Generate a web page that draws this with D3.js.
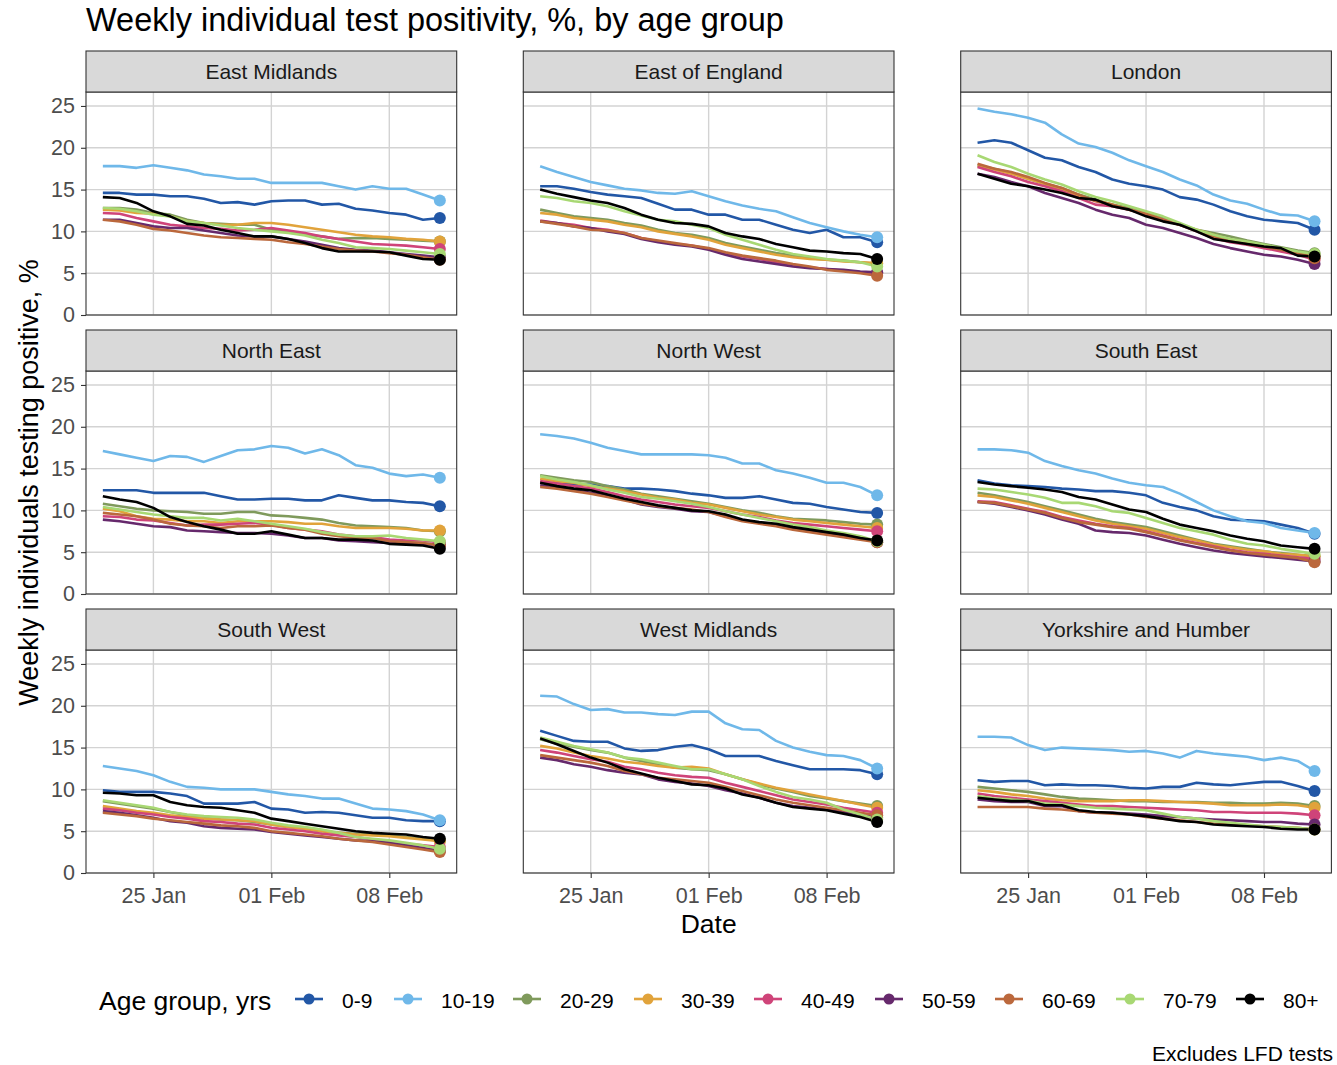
<!DOCTYPE html>
<html><head><meta charset="utf-8">
<script src="https://cdn.jsdelivr.net/npm/d3@7"></script>
<style>body{margin:0;background:#fff;} text{font-family:"Liberation Sans",Arial,sans-serif;}</style>
</head><body>
<svg id="chart" width="1337" height="1065"></svg>
<script>
const dates = ["2021-01-22","2021-01-23","2021-01-24","2021-01-25","2021-01-26","2021-01-27","2021-01-28","2021-01-29","2021-01-30","2021-01-31","2021-02-01","2021-02-02","2021-02-03","2021-02-04","2021-02-05","2021-02-06","2021-02-07","2021-02-08","2021-02-09","2021-02-10","2021-02-11"];
const ageGroups = ["0-9","10-19","20-29","30-39","40-49","50-59","60-69","70-79","80+"];
const ageColors = ["#2257a6","#6fb8e9","#7f9a5c","#e1a33b","#cf4479","#66296c","#bb683c","#a8d873","#000000"];
const regions = ["East Midlands","East of England","London","North East","North West","South East","South West","West Midlands","Yorkshire and Humber"];
const xTickDates = ["2021-01-25","2021-02-01","2021-02-08"];
const xTickLabels = ["25 Jan","01 Feb","08 Feb"];
const yTicks = [0,5,10,15,20,25];

// values per region: one row per age group (0-9 ... 80+), one value per date
const eastMidlands = [
 [14.6,14.6,14.4,14.4,14.2,14.2,13.9,13.4,13.5,13.2,13.6,13.7,13.7,13.2,13.3,12.7,12.5,12.2,12.0,11.4,11.6],
 [17.8,17.8,17.6,17.9,17.6,17.3,16.8,16.6,16.3,16.3,15.8,15.8,15.8,15.8,15.4,15.0,15.4,15.1,15.1,14.4,13.7],
 [12.8,12.8,12.6,12.2,12.0,11.4,11.0,10.9,10.8,10.8,10.2,10.0,9.6,9.4,9.1,9.2,9.2,9.1,9.0,8.9,8.8],
 [12.6,12.5,12.2,12.1,11.8,11.2,11.0,10.8,10.8,11.0,11.0,10.8,10.5,10.2,9.9,9.6,9.4,9.3,9.1,9.0,8.8],
 [12.2,12.1,11.6,11.2,10.8,10.6,10.4,10.3,10.1,10.2,10.4,10.1,9.8,9.4,9.1,8.8,8.5,8.4,8.3,8.1,7.9],
 [11.4,11.4,11.0,10.6,10.4,10.4,10.1,9.8,9.5,9.4,9.4,9.1,8.8,8.4,8.0,7.8,7.7,7.5,7.3,7.1,6.9],
 [11.4,11.2,10.8,10.3,10.1,9.8,9.5,9.3,9.2,9.1,9.0,8.7,8.5,8.2,7.9,7.7,7.6,7.4,7.2,6.9,6.6],
 [12.8,12.7,12.4,12.0,11.8,11.2,11.0,10.7,10.4,10.2,10.0,9.8,9.5,9.0,8.6,8.1,8.0,7.9,7.7,7.5,7.3],
 [14.1,14.0,13.4,12.4,11.8,10.9,10.7,10.2,9.8,9.4,9.4,9.1,8.6,8.0,7.6,7.6,7.6,7.5,7.1,6.7,6.6]
];
const eastOfEngland = [
 [15.4,15.4,15.1,14.7,14.4,14.2,14.0,13.3,12.6,12.6,12.0,12.0,11.4,11.4,10.8,10.2,9.8,10.2,9.3,9.3,8.7],
 [17.8,17.1,16.5,15.9,15.5,15.1,14.9,14.6,14.5,14.8,14.2,13.6,13.1,12.7,12.4,11.7,11.0,10.5,10.0,9.6,9.3],
 [12.6,12.2,11.8,11.6,11.4,11.0,10.7,10.2,9.8,9.6,9.2,8.6,8.2,7.8,7.4,7.1,6.8,6.6,6.5,6.3,6.1],
 [12.2,12.0,11.6,11.4,11.2,10.8,10.5,10.0,9.7,9.4,9.0,8.4,8.0,7.6,7.2,6.9,6.7,6.6,6.4,6.3,6.2],
 [11.3,11.0,10.8,10.4,10.2,9.8,9.2,8.8,8.5,8.3,7.9,7.4,7.0,6.7,6.3,6.0,5.7,5.5,5.3,5.1,5.0],
 [11.2,11.0,10.6,10.4,10.0,9.7,9.1,8.7,8.4,8.2,7.8,7.2,6.7,6.4,6.1,5.8,5.6,5.5,5.4,5.2,5.1],
 [11.2,10.9,10.6,10.2,10.1,9.8,9.2,8.9,8.6,8.3,8.0,7.5,7.1,6.8,6.5,6.1,5.8,5.4,5.2,5.0,4.7],
 [14.2,14.0,13.6,13.4,13.0,12.4,11.9,11.4,11.2,10.8,10.4,9.6,9.0,8.4,7.8,7.3,7.0,6.7,6.5,6.3,5.8],
 [15.0,14.5,14.1,13.7,13.4,12.8,12.0,11.4,11.0,10.9,10.6,9.8,9.4,9.1,8.5,8.1,7.7,7.6,7.4,7.3,6.7]
];
const london = [
 [20.6,20.9,20.6,19.7,18.8,18.5,17.7,17.1,16.2,15.7,15.4,15.0,14.1,13.8,13.2,12.4,11.8,11.4,11.2,11.0,10.2],
 [24.7,24.3,24.0,23.6,23.0,21.6,20.5,20.1,19.4,18.5,17.8,17.1,16.2,15.5,14.4,13.7,13.3,12.6,12.0,11.9,11.2],
 [17.9,17.5,17.0,16.3,15.7,15.2,14.4,13.8,13.2,12.8,12.2,11.6,10.8,10.2,9.8,9.4,8.9,8.5,8.1,7.7,7.4],
 [17.8,17.4,16.9,16.3,15.7,15.0,14.2,13.7,13.2,12.6,12.1,11.4,10.8,10.2,9.6,9.0,8.6,8.3,7.9,7.5,7.0],
 [17.7,17.1,16.6,15.9,15.4,14.8,14.0,13.2,13.0,12.6,12.0,11.4,10.8,10.0,9.2,8.7,8.4,8.0,7.6,7.2,6.6],
 [16.9,16.5,15.9,15.4,14.6,14.0,13.4,12.6,12.0,11.6,10.8,10.4,9.8,9.2,8.5,8.0,7.6,7.2,7.0,6.6,6.1],
 [18.1,17.5,17.1,16.5,15.8,15.2,14.4,13.6,13.2,12.6,12.1,11.4,10.8,10.1,9.4,9.0,8.5,8.2,7.8,7.4,6.8],
 [19.1,18.3,17.7,16.9,16.2,15.6,14.8,14.1,13.6,13.0,12.4,11.8,11.0,10.2,9.6,9.1,8.8,8.4,8.0,7.6,7.3],
 [16.9,16.3,15.7,15.4,15.0,14.6,14.0,13.8,13.0,12.6,11.8,11.2,10.8,10.0,9.1,8.8,8.5,8.2,8.0,7.1,7.0]
];
const northEast = [
 [12.4,12.4,12.4,12.1,12.1,12.1,12.1,11.7,11.3,11.3,11.4,11.4,11.2,11.2,11.8,11.5,11.2,11.2,11.0,10.9,10.5],
 [17.1,16.7,16.3,15.9,16.5,16.4,15.8,16.5,17.2,17.3,17.7,17.5,16.8,17.3,16.6,15.4,15.1,14.4,14.1,14.3,13.9],
 [10.8,10.5,10.2,10.0,9.9,9.8,9.6,9.6,9.8,9.8,9.4,9.3,9.1,8.9,8.5,8.2,8.1,8.0,7.9,7.6,7.5],
 [10.2,9.9,9.3,9.0,8.9,8.7,8.7,8.5,8.7,8.7,8.7,8.6,8.4,8.4,8.1,7.9,7.9,7.9,7.8,7.6,7.6],
 [9.3,9.2,8.9,8.8,8.5,8.2,8.3,8.3,8.4,8.5,8.3,7.9,7.7,7.5,7.1,6.9,6.8,6.5,6.4,6.4,6.2],
 [8.9,8.7,8.4,8.1,8.0,7.6,7.5,7.4,7.3,7.3,7.2,7.0,6.7,6.7,6.4,6.3,6.2,6.1,6.0,6.0,5.9],
 [9.7,9.5,9.3,8.9,8.4,8.2,8.1,7.9,8.1,8.1,8.2,7.9,7.7,7.2,6.9,6.7,6.7,6.3,6.2,6.1,5.8],
 [10.4,10.1,9.8,9.5,9.3,9.1,9.1,8.8,9.0,8.7,8.4,8.1,7.8,7.4,7.1,6.9,6.9,7.0,6.7,6.5,6.3],
 [11.7,11.3,11.0,10.3,9.2,8.6,8.1,7.7,7.2,7.2,7.5,7.1,6.7,6.7,6.5,6.5,6.4,6.0,5.9,5.8,5.4]
];
const northWest = [
 [13.3,13.2,13.1,13.1,12.9,12.6,12.6,12.5,12.3,12.0,11.8,11.5,11.5,11.7,11.3,10.9,10.8,10.4,10.1,9.8,9.7],
 [19.1,18.9,18.6,18.1,17.5,17.1,16.7,16.7,16.7,16.7,16.6,16.3,15.6,15.6,14.8,14.4,13.9,13.3,13.3,12.8,11.8],
 [14.2,13.9,13.6,13.4,12.9,12.5,12.0,11.7,11.4,11.1,10.8,10.4,10.0,9.7,9.3,9.0,8.9,8.8,8.6,8.4,8.3],
 [13.8,13.5,13.3,12.9,12.6,12.3,11.9,11.5,11.3,10.9,10.7,10.3,9.9,9.5,9.2,8.9,8.7,8.5,8.3,8.1,7.9],
 [13.5,13.2,12.9,12.6,12.2,11.7,11.3,11.0,10.7,10.5,10.3,9.9,9.5,9.2,8.8,8.5,8.3,8.1,7.9,7.7,7.5],
 [13.0,12.7,12.4,12.1,11.8,11.3,10.7,10.4,10.2,9.9,9.8,9.3,8.8,8.5,8.3,7.9,7.6,7.3,7.0,6.7,6.2],
 [12.8,12.6,12.3,12.0,11.6,11.2,10.8,10.5,10.3,10.1,9.8,9.2,8.7,8.4,8.1,7.7,7.4,7.1,6.8,6.5,6.2],
 [14.1,13.7,13.4,13.0,12.5,12.1,11.6,11.4,11.1,10.8,10.4,9.9,9.5,9.1,8.7,8.3,8.0,7.6,7.3,6.9,6.3],
 [13.3,12.9,12.6,12.4,11.9,11.4,11.0,10.6,10.3,10.0,9.9,9.5,8.9,8.6,8.4,8.0,7.7,7.4,7.1,6.7,6.4]
];
const southEast = [
 [13.6,13.2,13.0,12.9,12.8,12.6,12.5,12.3,12.3,12.1,11.8,10.9,10.4,10.0,9.3,8.9,8.8,8.7,8.3,7.9,7.2],
 [17.3,17.3,17.2,16.9,15.9,15.3,14.8,14.4,13.8,13.3,13.0,12.8,12.0,11.0,10.0,9.3,8.7,8.5,7.9,7.6,7.3],
 [12.1,11.8,11.4,11.0,10.5,10.0,9.5,9.0,8.6,8.3,8.0,7.5,7.0,6.5,6.0,5.7,5.4,5.1,4.9,4.7,4.5],
 [11.8,11.6,11.2,10.8,10.3,9.8,9.3,8.8,8.4,8.1,7.8,7.3,6.8,6.4,5.9,5.6,5.3,5.1,4.8,4.7,4.5],
 [11.1,11.0,10.6,10.2,9.8,9.2,8.8,8.4,8.1,7.9,7.5,7.0,6.5,6.1,5.7,5.3,5.0,4.8,4.6,4.4,4.2],
 [11.0,10.8,10.4,10.0,9.5,8.9,8.4,7.6,7.4,7.3,7.0,6.5,6.0,5.6,5.2,4.9,4.7,4.5,4.3,4.1,3.9],
 [11.0,10.9,10.5,10.1,9.7,9.1,8.6,8.3,8.0,7.8,7.4,6.9,6.4,6.0,5.6,5.2,4.9,4.7,4.5,4.3,3.8],
 [12.6,12.5,12.2,11.9,11.5,10.9,10.9,10.5,9.9,9.7,9.1,8.5,7.9,7.5,7.1,6.5,6.0,5.8,5.4,5.1,4.8],
 [13.4,13.1,12.9,12.7,12.5,12.2,11.6,11.3,10.7,10.1,9.8,9.0,8.3,7.9,7.5,7.0,6.6,6.3,5.8,5.6,5.4]
];
const southWest = [
 [9.9,9.7,9.7,9.7,9.5,9.2,8.3,8.3,8.3,8.5,7.7,7.6,7.2,7.3,7.2,6.9,6.6,6.6,6.3,6.2,6.2],
 [12.8,12.5,12.2,11.7,10.9,10.3,10.2,10.0,10.0,10.0,9.7,9.4,9.2,8.9,8.9,8.3,7.7,7.6,7.4,7.0,6.3],
 [8.6,8.3,8.0,7.7,7.3,6.9,6.6,6.4,6.3,6.1,5.8,5.5,5.3,5.0,4.8,4.7,4.6,4.5,4.3,4.1,3.9],
 [8.0,7.7,7.4,7.2,6.9,6.7,6.5,6.4,6.3,6.2,5.8,5.5,5.3,5.0,4.8,4.6,4.5,4.4,4.2,4.0,3.8],
 [7.7,7.5,7.2,7.0,6.7,6.5,6.2,6.1,5.9,5.8,5.4,5.2,5.0,4.7,4.5,4.3,4.0,3.8,3.5,3.3,3.1],
 [7.4,7.2,6.9,6.6,6.2,6.0,5.6,5.4,5.3,5.2,4.9,4.7,4.5,4.3,4.1,3.9,3.8,3.6,3.3,3.0,2.7],
 [7.2,7.0,6.8,6.5,6.3,6.1,5.9,5.7,5.6,5.4,5.0,4.8,4.6,4.4,4.1,3.9,3.7,3.4,3.1,2.8,2.5],
 [8.7,8.4,8.1,7.8,7.3,7.0,6.8,6.7,6.6,6.4,6.0,5.7,5.5,5.2,4.8,4.3,4.1,3.9,3.6,3.3,2.9],
 [9.6,9.5,9.3,9.3,8.5,8.1,7.9,7.8,7.5,7.2,6.5,6.2,5.9,5.6,5.3,5.0,4.8,4.7,4.6,4.3,4.1]
];
const westMidlands = [
 [17.0,16.4,15.8,15.7,15.7,14.9,14.6,14.7,15.1,15.3,14.8,14.0,14.0,14.0,13.4,12.9,12.4,12.4,12.4,12.3,11.8],
 [21.2,21.1,20.2,19.5,19.6,19.2,19.2,19.0,18.9,19.3,19.3,17.9,17.2,17.1,15.8,15.0,14.5,14.1,14.0,13.5,12.5],
 [16.0,15.5,15.1,14.7,14.4,13.8,13.4,13.0,12.6,12.4,12.3,11.8,11.2,10.6,10.1,9.7,9.2,8.9,8.6,8.3,8.0],
 [15.2,14.9,14.4,14.0,13.7,13.3,13.1,12.8,12.6,12.7,12.5,11.8,11.2,10.7,10.2,9.8,9.4,9.0,8.6,8.2,7.8],
 [14.7,14.4,14.0,13.6,13.3,12.7,12.4,12.0,11.7,11.5,11.4,10.8,10.3,9.8,9.3,8.8,8.5,8.2,7.8,7.5,7.2],
 [13.8,13.5,13.0,12.7,12.3,12.0,11.8,11.2,10.9,10.7,10.4,9.9,9.5,9.0,8.4,8.0,7.8,7.6,7.3,7.0,6.6],
 [14.1,13.8,13.5,13.2,12.8,12.2,11.8,11.4,11.2,11.0,10.8,10.3,9.8,9.3,8.8,8.4,8.1,7.8,7.5,7.2,6.9],
 [16.2,15.7,15.2,14.8,14.4,13.8,13.6,13.2,12.8,12.4,12.4,11.8,11.2,10.4,9.7,9.1,8.8,8.4,7.6,7.0,6.4],
 [16.1,15.4,14.6,13.8,13.2,12.4,11.9,11.4,11.0,10.6,10.5,10.1,9.4,9.0,8.4,7.9,7.7,7.5,7.1,6.7,6.1]
];
const yorkshire = [
 [11.1,10.9,11.0,11.0,10.5,10.6,10.5,10.5,10.4,10.2,10.1,10.3,10.3,10.8,10.6,10.5,10.7,10.9,10.9,10.4,9.8],
 [16.3,16.3,16.2,15.3,14.7,15.0,14.9,14.8,14.7,14.5,14.6,14.3,13.8,14.6,14.3,14.1,13.9,13.5,13.8,13.4,12.2],
 [10.3,10.1,9.9,9.7,9.4,9.1,8.9,8.8,8.7,8.6,8.6,8.5,8.5,8.5,8.4,8.4,8.3,8.3,8.4,8.3,8.0],
 [9.9,9.7,9.4,9.2,8.9,8.7,8.6,8.6,8.6,8.7,8.7,8.6,8.5,8.4,8.3,8.1,8.1,8.1,8.2,8.1,7.8],
 [9.5,9.2,9.0,8.8,8.6,8.4,8.2,8.0,8.0,7.9,7.8,7.7,7.6,7.5,7.3,7.3,7.2,7.2,7.2,7.1,6.9],
 [8.8,8.6,8.5,8.5,8.0,8.0,7.4,7.2,7.2,7.1,7.0,6.8,6.7,6.5,6.4,6.3,6.2,6.1,6.1,5.9,5.8],
 [7.9,7.9,7.9,7.9,7.7,7.6,7.4,7.2,7.1,7.0,6.7,6.5,6.3,6.1,5.9,5.8,5.7,5.6,5.5,5.4,5.2],
 [9.2,8.9,8.8,8.6,8.3,8.2,8.0,7.8,7.7,7.6,7.5,7.1,6.7,6.5,6.2,6.0,5.8,5.6,5.5,5.4,5.2],
 [9.0,8.8,8.6,8.6,8.1,8.1,7.5,7.3,7.2,7.0,6.8,6.5,6.2,6.1,5.8,5.7,5.6,5.5,5.3,5.2,5.2]
];
const regionValues = [eastMidlands, eastOfEngland, london, northEast, northWest, southEast, southWest, westMidlands, yorkshire];

const svg = d3.select("#chart");
const parse = d3.timeParse("%Y-%m-%d");
const dateObjs = dates.map(parse);

const colLeft = [86, 523.3, 960.7];
const panelW = 370.7;
const rowTop = [92, 371, 650];
const panelH = 223;
const stripH = 41;

const x = d3.scaleTime().domain([parse("2021-01-21"), parse("2021-02-12")]).range([0, panelW]);
const y = d3.scaleLinear().domain([0, 26.67]).range([panelH, 0]);

const line = d3.line().x((d,i) => x(dateObjs[i])).y(d => y(d));

regions.forEach((name, r) => {
  const col = r % 3, row = Math.floor(r / 3);
  const g = svg.append("g").attr("transform", `translate(${colLeft[col]},${rowTop[row]})`);
  g.append("rect").attr("width", panelW).attr("height", panelH).attr("fill", "#fff");
  g.selectAll(".gy").data(yTicks).join("line")
    .attr("x1", 0).attr("x2", panelW).attr("y1", d => y(d)).attr("y2", d => y(d))
    .attr("stroke", "#d3d3d3").attr("stroke-width", 1.4);
  g.selectAll(".gx").data(xTickDates).join("line")
    .attr("x1", d => x(parse(d))).attr("x2", d => x(parse(d))).attr("y1", 0).attr("y2", panelH)
    .attr("stroke", "#d3d3d3").attr("stroke-width", 1.4);
  const vals = regionValues[r];
  ageGroups.forEach((ag, a) => {
    g.append("path").datum(vals[a]).attr("d", line)
      .attr("fill", "none").attr("stroke", ageColors[a]).attr("stroke-width", 2.6)
      .attr("stroke-linejoin", "round").attr("stroke-linecap", "butt");
  });
  ageGroups.forEach((ag, a) => {
    const v = vals[a];
    g.append("circle").attr("cx", x(dateObjs[v.length-1])).attr("cy", y(v[v.length-1]))
      .attr("r", 6).attr("fill", ageColors[a]);
  });
  g.append("rect").attr("width", panelW).attr("height", panelH).attr("fill", "none")
    .attr("stroke", "#333").attr("stroke-width", 1.1);
  g.append("rect").attr("y", -stripH).attr("width", panelW).attr("height", stripH)
    .attr("fill", "#d9d9d9").attr("stroke", "#333").attr("stroke-width", 1.1);
  g.append("text").attr("x", panelW/2).attr("y", -stripH/2).attr("dy", "0.36em")
    .attr("text-anchor", "middle").attr("font-size", 21).attr("fill", "#1a1a1a").text(name);
  if (col === 0) {
    const ya = g.append("g").call(d3.axisLeft(y).tickValues(yTicks).tickSize(5).tickPadding(6));
    ya.select(".domain").remove();
    ya.selectAll("line").attr("stroke", "#333").attr("stroke-width", 1.1);
    ya.selectAll("text").attr("font-size", 21.5).attr("fill", "#4d4d4d").attr("font-family", "Liberation Sans, Arial, sans-serif");
  }
  if (row === 2) {
    const xa = g.append("g").attr("transform", `translate(0,${panelH})`)
      .call(d3.axisBottom(x).tickValues(xTickDates.map(parse)).tickFormat((d,i) => xTickLabels[i]).tickSize(5).tickPadding(10));
    xa.select(".domain").remove();
    xa.selectAll("line").attr("stroke", "#333").attr("stroke-width", 1.1);
    xa.selectAll("text").attr("font-size", 21.5).attr("fill", "#4d4d4d").attr("font-family", "Liberation Sans, Arial, sans-serif");
  }
});

svg.append("text").attr("x", 86).attr("y", 31).attr("font-size", 32.5).attr("fill", "#000")
  .text("Weekly individual test positivity, %, by age group");
svg.append("text").attr("x", colLeft[1] + panelW/2).attr("y", 933).attr("text-anchor", "middle")
  .attr("font-size", 26.5).attr("fill", "#000").text("Date");
svg.append("text").attr("transform", "translate(38,482.5) rotate(-90)").attr("text-anchor", "middle")
  .attr("font-size", 27).attr("fill", "#000").text("Weekly individuals testing positive, %");

const leg = svg.append("g");
leg.append("text").attr("x", 99).attr("y", 1000).attr("dy", "0.36em").attr("font-size", 26.5).attr("fill", "#000").text("Age group, yrs");
const labelX = [342, 441, 560, 681, 801, 922, 1042, 1163, 1283];
ageGroups.forEach((ag, a) => {
  const kc = labelX[a] - 33;
  leg.append("line").attr("x1", kc - 14).attr("x2", kc + 14).attr("y1", 999).attr("y2", 999)
    .attr("stroke", ageColors[a]).attr("stroke-width", 2.6);
  leg.append("circle").attr("cx", kc).attr("cy", 999).attr("r", 5.5).attr("fill", ageColors[a]);
  leg.append("text").attr("x", labelX[a]).attr("y", 1000).attr("dy", "0.36em").attr("font-size", 21).attr("fill", "#000").text(ag);
});
svg.append("text").attr("x", 1333).attr("y", 1061).attr("text-anchor", "end").attr("font-size", 21).attr("fill", "#000").text("Excludes LFD tests");
</script>
</body></html>
